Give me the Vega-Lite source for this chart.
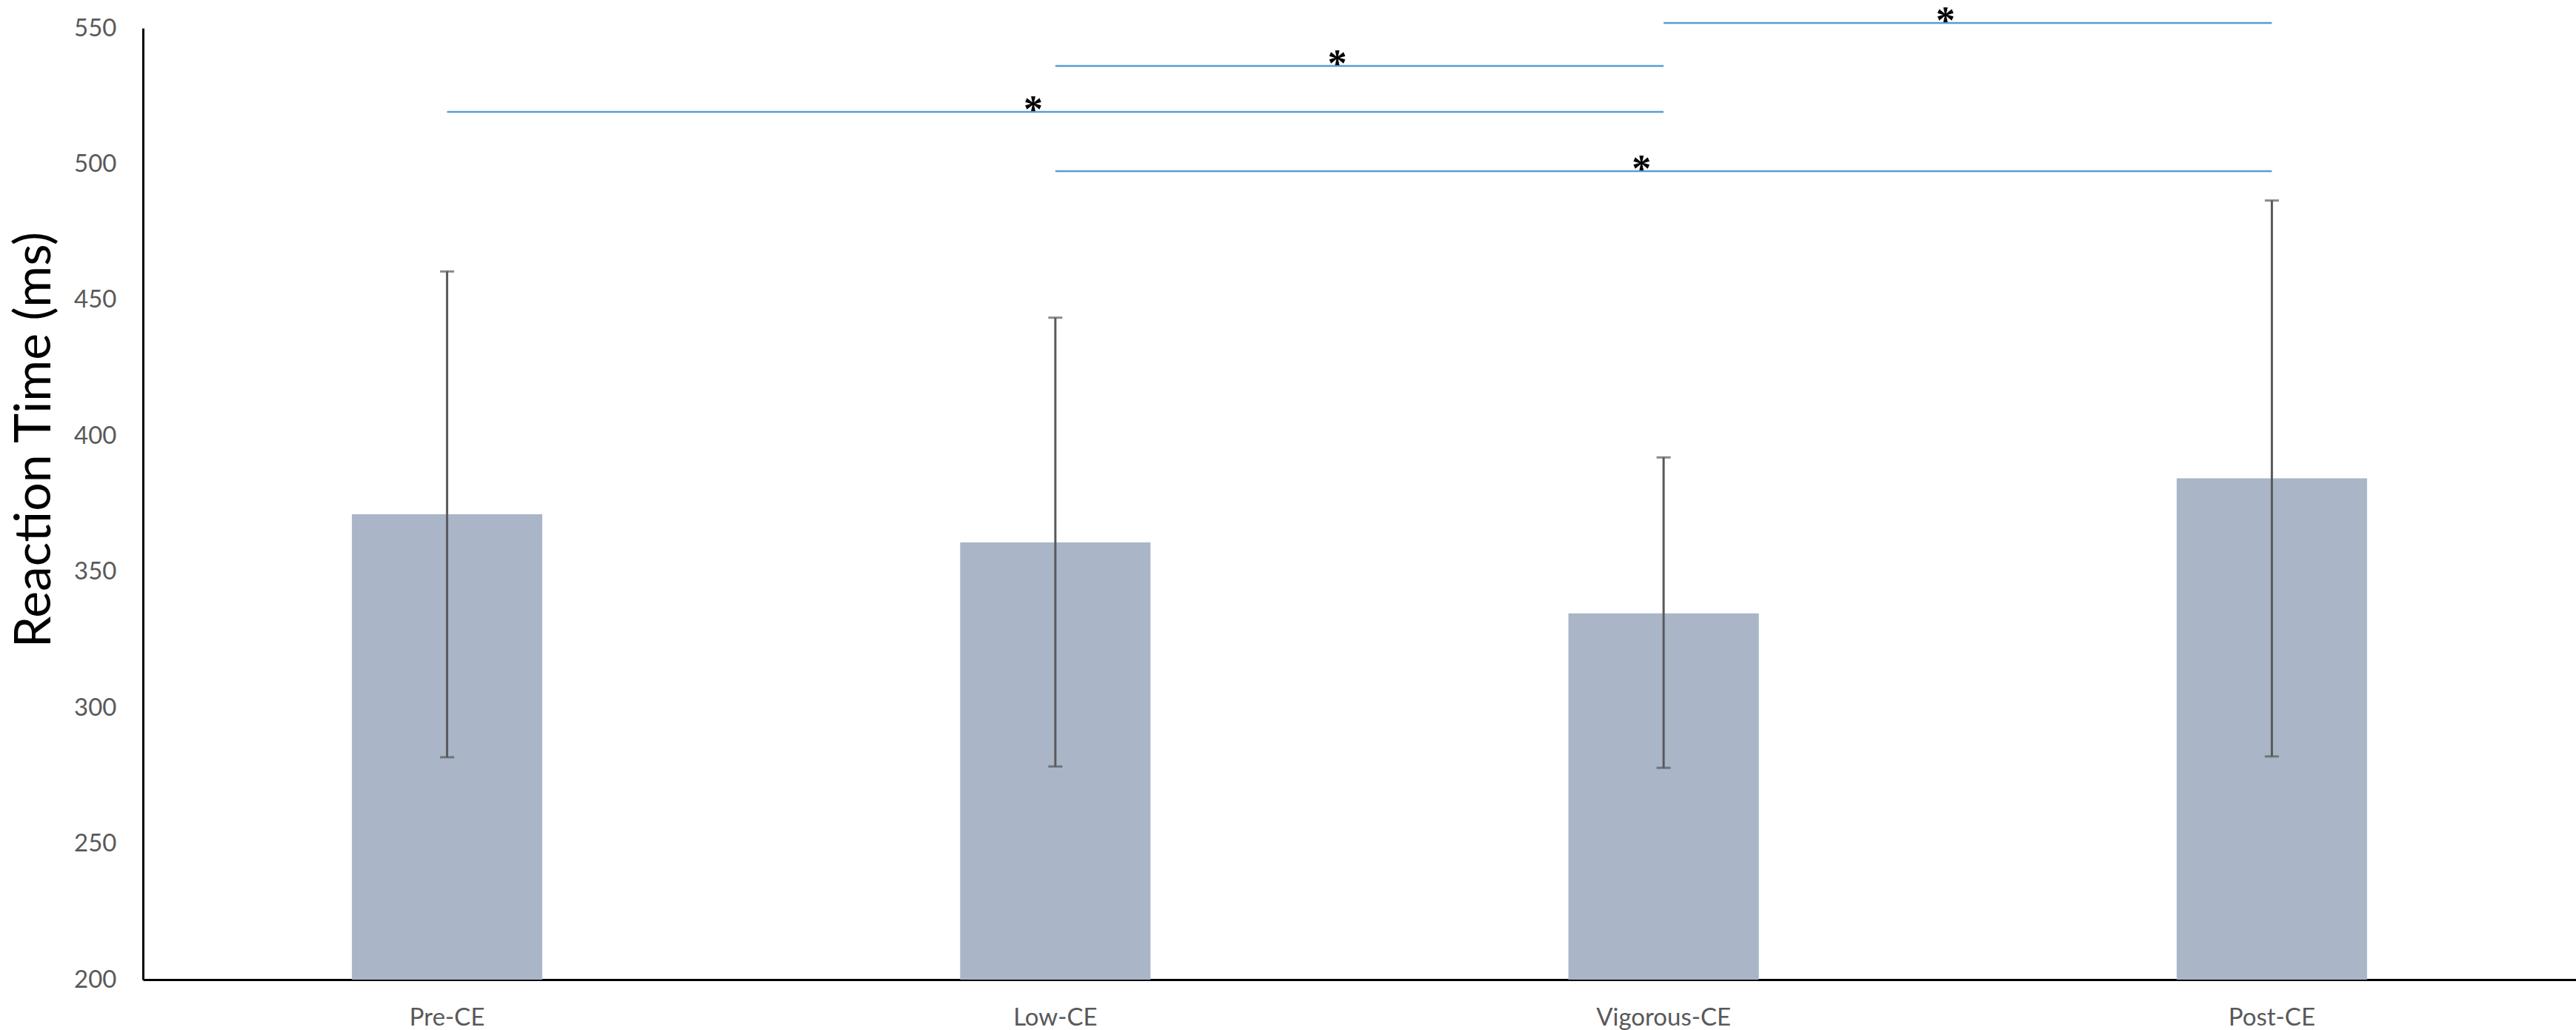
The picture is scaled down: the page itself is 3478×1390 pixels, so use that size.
{
  "$schema": "https://vega.github.io/schema/vega-lite/v6.json",
  "autosize": {"type": "none"},
  "padding": {"left": 193, "top": 38, "right": 0, "bottom": 68},
  "width": 3285,
  "height": 1284,
  "background": "white",
  "datasets": {
    "groups": [
      {"condition": "Pre-CE", "mean": 371.2, "lo": 281.8, "hi": 460.5},
      {"condition": "Low-CE", "mean": 360.8, "lo": 278.4, "hi": 443.5},
      {"condition": "Vigorous-CE", "mean": 334.7, "lo": 277.9, "hi": 392.1},
      {"condition": "Post-CE", "mean": 384.4, "lo": 282.1, "hi": 486.6}
    ],
    "sig": [
      {"from": "Vigorous-CE", "to": "Post-CE", "y": 551.9, "star": "Vigorous-CE", "edge": true},
      {"from": "Low-CE", "to": "Vigorous-CE", "y": 536.1, "star": "Low-CE", "edge": true},
      {"from": "Pre-CE", "to": "Vigorous-CE", "y": 519.2, "star": "Low-CE", "edge": false},
      {"from": "Low-CE", "to": "Post-CE", "y": 497.4, "star": "Vigorous-CE", "edge": false}
    ]
  },
  "layer": [
    {
      "data": {"name": "groups"},
      "mark": {"type": "bar", "color": "#AAB5C8", "width": {"band": 0.313}},
      "encoding": {
        "x": {
          "field": "condition",
          "type": "nominal",
          "sort": null,
          "title": null,
          "scale": {
            "domain": ["Pre-CE", "Low-CE", "Vigorous-CE", "Post-CE"],
            "paddingInner": 0,
            "paddingOuter": 0
          },
          "axis": {
            "labelAngle": 0,
            "labelLimit": 0,
            "ticks": false,
            "domainColor": "black",
            "domainWidth": 3,
            "labelFont": "Lato",
            "labelFontSize": 33,
            "labelColor": "#595959",
            "labelPadding": 61,
            "labelBaseline": "alphabetic"
          }
        },
        "y": {
          "field": "mean",
          "type": "quantitative",
          "title": "Reaction Time (ms)",
          "scale": {"domain": [200, 550], "nice": false, "zero": false},
          "axis": {
            "values": [200, 250, 300, 350, 400, 450, 500, 550],
            "grid": false,
            "ticks": false,
            "domainColor": "black",
            "domainWidth": 3,
            "labelFont": "Lato",
            "labelFontSize": 33,
            "labelColor": "#595959",
            "labelPadding": 36,
            "labelFlush": false,
            "labelOverlap": false,
            "titleFont": "Lato",
            "titleFontSize": 68,
            "titleFontWeight": "normal",
            "titleColor": "black",
            "titleAngle": -90,
            "titleX": -126,
            "titleY": 555,
            "titleAlign": "center",
            "titleBaseline": "alphabetic"
          }
        },
        "y2": {"datum": 200}
      }
    },
    {
      "data": {"name": "groups"},
      "mark": {
        "type": "errorbar",
        "ticks": {"size": 19, "thickness": 3, "color": "#595959"},
        "rule": {"strokeWidth": 3, "color": "#595959"}
      },
      "encoding": {
        "x": {
          "field": "condition",
          "type": "nominal",
          "sort": null,
          "title": null,
          "scale": {"domain": ["Pre-CE", "Low-CE", "Vigorous-CE", "Post-CE"]}
        },
        "y": {"field": "lo", "type": "quantitative", "title": "Reaction Time (ms)"},
        "y2": {"field": "hi"}
      }
    },
    {
      "data": {"name": "sig"},
      "mark": {"type": "rule", "color": "#5B9BD5", "strokeWidth": 2.5},
      "encoding": {
        "x": {
          "field": "from",
          "type": "nominal",
          "sort": null,
          "title": null,
          "scale": {"domain": ["Pre-CE", "Low-CE", "Vigorous-CE", "Post-CE"]}
        },
        "x2": {"field": "to"},
        "y": {"field": "y", "type": "quantitative", "title": "Reaction Time (ms)"}
      }
    },
    {
      "data": {"name": "sig"},
      "transform": [{"filter": "!datum.edge"}],
      "mark": {
        "type": "text",
        "text": "*",
        "font": "Liberation Serif",
        "fontSize": 52,
        "fontWeight": "bold",
        "baseline": "alphabetic",
        "dy": 14,
        "dx": -30,
        "color": "black"
      },
      "encoding": {
        "x": {
          "field": "star",
          "type": "nominal",
          "sort": null,
          "title": null,
          "bandPosition": 0.5,
          "scale": {"domain": ["Pre-CE", "Low-CE", "Vigorous-CE", "Post-CE"]}
        },
        "y": {"field": "y", "type": "quantitative", "title": "Reaction Time (ms)"}
      }
    },
    {
      "data": {"name": "sig"},
      "transform": [{"filter": "datum.edge"}],
      "mark": {
        "type": "text",
        "text": "*",
        "font": "Liberation Serif",
        "fontSize": 52,
        "fontWeight": "bold",
        "baseline": "alphabetic",
        "dy": 14,
        "dx": -30,
        "color": "black"
      },
      "encoding": {
        "x": {
          "field": "star",
          "type": "nominal",
          "sort": null,
          "title": null,
          "bandPosition": 1,
          "scale": {"domain": ["Pre-CE", "Low-CE", "Vigorous-CE", "Post-CE"]}
        },
        "y": {"field": "y", "type": "quantitative", "title": "Reaction Time (ms)"}
      }
    }
  ],
  "config": {
    "view": {"stroke": null}
  }
}
